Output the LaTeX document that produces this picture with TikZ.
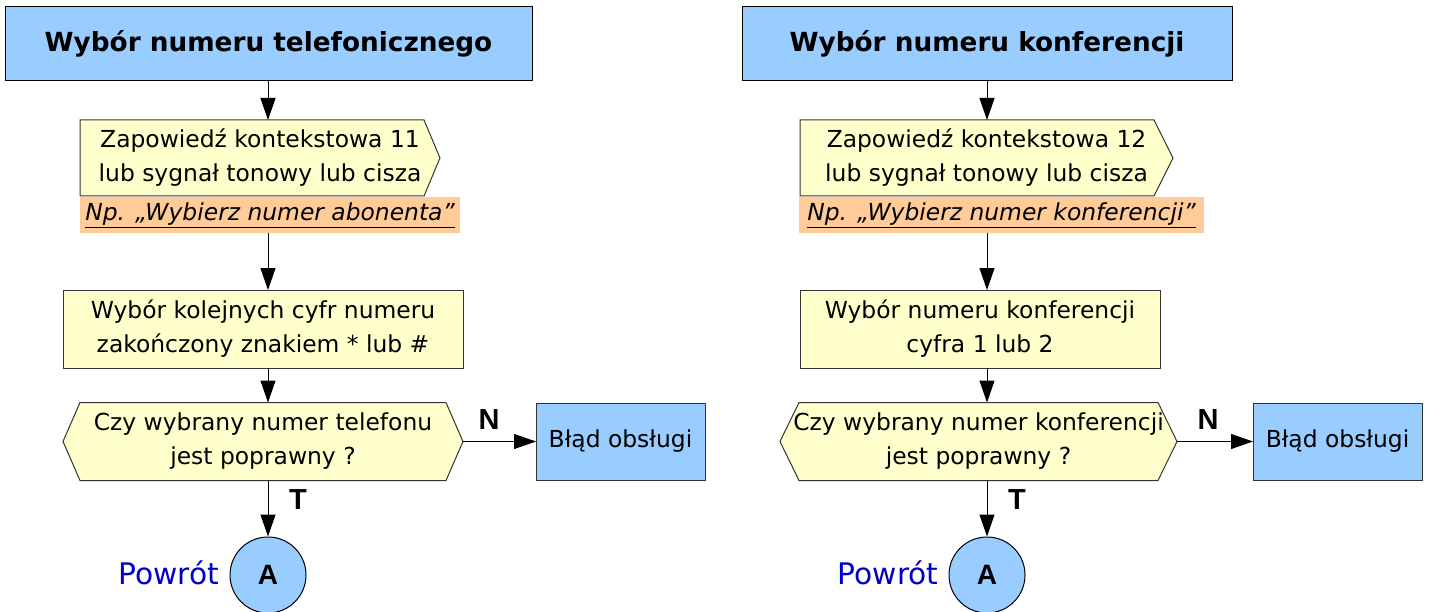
\documentclass[tikz,border=0pt]{standalone}
\usepackage{fontspec}
\setmainfont{DejaVu Sans}
\newfontfamily\lblfont{Liberation Sans}
\usetikzlibrary{arrows.meta,backgrounds,calc}
\definecolor{hdrblue}{HTML}{99CCFF}
\definecolor{noteyel}{HTML}{FFFFCC}
\definecolor{noteorg}{HTML}{FFCC99}
\definecolor{retblue}{HTML}{0000CC}
\definecolor{edge}{HTML}{333333}
\tikzset{
  hdr/.style={draw=black,line width=1pt,fill=hdrblue,inner sep=0pt,outer sep=0pt,
    font=\bfseries\fontsize{26.3}{30}\selectfont},
  txt/.style={inner sep=0pt,outer sep=0pt,align=center,
    font=\fontsize{23.4}{34}\selectfont},
  plainbox/.style={txt,draw=edge,line width=1pt,fill=noteyel},
  errbox/.style={txt,draw=edge,line width=1pt,fill=hdrblue},
  shapeline/.style={draw=edge,line width=1pt,fill=noteyel},
  orange/.style={fill=noteorg,inner sep=0pt,outer sep=0pt,
    font=\itshape\fontsize{23.4}{30}\selectfont},
  conn/.style={line width=1pt,draw=black,-{Triangle[length=22pt,width=15pt]}},
  yn/.style={font=\lblfont\bfseries\fontsize{29}{29}\selectfont},
  ret/.style={text=retblue,font=\fontsize{29.7}{30}\selectfont},
  term/.style={circle,draw=black,line width=1pt,fill=hdrblue,minimum size=76pt,inner sep=0pt,
    font=\lblfont\bfseries\fontsize{28}{28}\selectfont}
}
\begin{document}
\begin{tikzpicture}[x=1pt,y=-1pt]
\useasboundingbox (0,0) rectangle (1431,612);
% ---------- left column ----------
\node[hdr,minimum width=527pt,minimum height=74pt] (t1) at (268.5,44) {Wybór numeru telefonicznego};
\node[txt,minimum width=360pt,minimum height=76pt] (z1) at (260,158) {Zapowiedź kontekstowa 11\\lub sygnał tonowy lub cisza};
\node[orange,minimum width=380pt,minimum height=36pt] (o1) at (270,215) {\underline{Np. „Wybierz numer abonenta”}};
\node[plainbox,minimum width=400pt,minimum height=78pt] (b1) at (263,329) {Wybór kolejnych cyfr numeru\\zakończony znakiem * lub \#};
\node[txt,minimum width=400pt,minimum height=78pt] (h1) at (263,441.5) {Czy wybrany numer telefonu\\jest poprawny ?};
\node[errbox,minimum width=169pt,minimum height=77pt] (e1) at (620.5,441.5) {Błąd obsługi};
\node[term] (a1) at (268,575) {A};
\node[ret] (r1) at (169,573) {Powrót};
\node[yn] (n1) at (489,420) {N};
\node[yn] (y1) at (298,500) {T};
% ---------- right column ----------
\node[hdr,minimum width=490pt,minimum height=74pt] (t2) at (987,44) {Wybór numeru konferencji};
\node[txt,minimum width=373pt,minimum height=76pt] (z2) at (986.5,158) {Zapowiedź kontekstowa 12\\lub sygnał tonowy lub cisza};
\node[orange,minimum width=405pt,minimum height=36pt] (o2) at (1001.5,215) {\underline{Np. „Wybierz numer konferencji”}};
\node[plainbox,minimum width=360pt,minimum height=78pt] (b2) at (980,329) {Wybór numeru konferencji\\cyfra 1 lub 2};
\node[txt,minimum width=397pt,minimum height=78pt] (h2) at (978.5,441.5) {Czy wybrany numer konferencji\\jest poprawny ?};
\node[errbox,minimum width=169pt,minimum height=77pt] (e2) at (1337.5,441.5) {Błąd obsługi};
\node[term] (a2) at (987,575) {A};
\node[ret] (r2) at (888,573) {Powrót};
\node[yn] (n2) at (1208,420) {N};
\node[yn] (y2) at (1017,500) {T};
% ---------- shapes behind text ----------
\begin{scope}[on background layer]
  \path[shapeline] (z1.north west) -- ([xshift=-16pt]z1.north east) -- (z1.east)
     -- ([xshift=-16pt]z1.south east) -- (z1.south west) -- cycle;
  \path[shapeline] (h1.west) -- ([xshift=17pt]h1.north west) -- ([xshift=-17pt]h1.north east)
     -- (h1.east) -- ([xshift=-17pt]h1.south east) -- ([xshift=17pt]h1.south west) -- cycle;
  \path[shapeline] (z2.north west) -- ([xshift=-19pt]z2.north east) -- (z2.east)
     -- ([xshift=-19pt]z2.south east) -- (z2.south west) -- cycle;
  \path[shapeline] (h2.west) -- ([xshift=19pt]h2.north west) -- ([xshift=-19pt]h2.north east)
     -- (h2.east) -- ([xshift=-19pt]h2.south east) -- ([xshift=19pt]h2.south west) -- cycle;
\end{scope}
% ---------- connectors ----------
\draw[conn] (t1.south -| a1.north) -- (z1.north -| a1.north);
\draw[conn] (o1.south -| a1.north) -- (b1.north -| a1.north);
\draw[conn] (b1.south -| a1.north) -- (h1.north -| a1.north);
\draw[conn] (h1.east) -- (e1.west);
\draw[conn] (h1.south -| a1.north) -- (a1.north);
\draw[conn] (t2.south -| a2.north) -- (z2.north -| a2.north);
\draw[conn] (o2.south -| a2.north) -- (b2.north -| a2.north);
\draw[conn] (b2.south -| a2.north) -- (h2.north -| a2.north);
\draw[conn] (h2.east) -- (e2.west);
\draw[conn] (h2.south -| a2.north) -- (a2.north);
\end{tikzpicture}
\end{document}
